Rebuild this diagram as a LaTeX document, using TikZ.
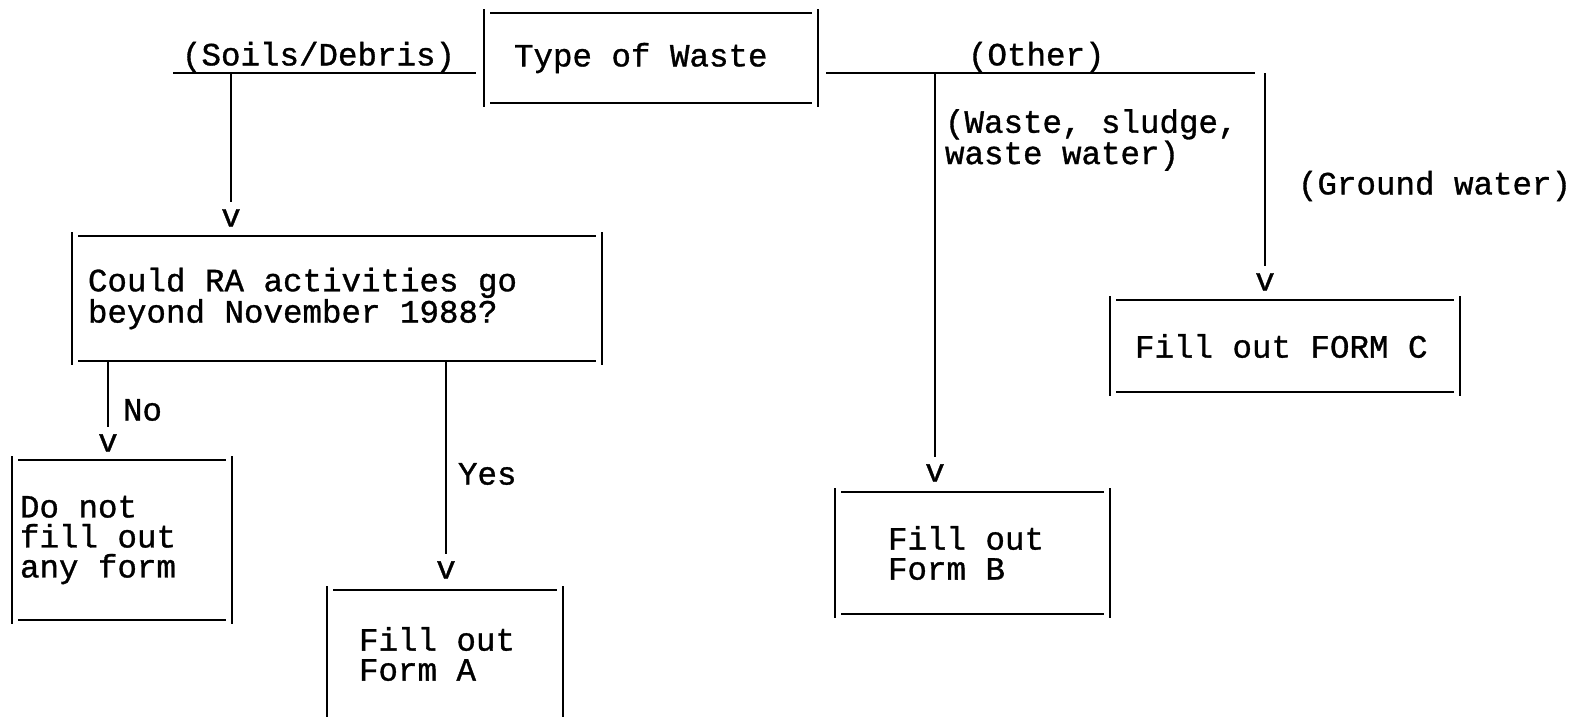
\documentclass[tikz,border=0pt]{standalone}
\usepackage{fontspec}
\newfontfamily\typewriter[FakeBold=1]{Liberation Mono}
\usetikzlibrary{calc}
% typed box: horizontals set in, verticals run a bit past them
\newcommand{\asciibox}[1]{%
  \draw ([xshift=6pt]#1.north west) -- ([xshift=-6pt]#1.north east);
  \draw ([xshift=6pt]#1.south west) -- ([xshift=-6pt]#1.south east);
  \draw ([yshift=4pt]#1.north west) -- ([yshift=-4pt]#1.south west);
  \draw ([yshift=4pt]#1.north east) -- ([yshift=-4pt]#1.south east);}

\begin{document}
\begin{tikzpicture}[x=1pt,y=-1pt,line width=2.2pt,
  every node/.style={font=\typewriter\fontsize{32.5}{30}\selectfont,inner sep=0pt,outer sep=0pt},
  formbox/.style={anchor=north west,align=flush left,inner ysep=0pt},
  vtip/.style={anchor=base},
  lab/.style={anchor=west,align=flush left},
  conn/.style={shorten >=7pt}]
  \clip (0,0) rectangle (1576,716);
  \node[formbox,minimum width=334pt,minimum height=90pt,inner xsep=30pt,text width=274pt] (waste) at (484,13) {Type of Waste};
  \node[formbox,minimum width=530pt,minimum height=125pt,inner xsep=16pt,text width=498pt] (quest) at (72,236) {Could RA activities go\\beyond November 1988?};
  \node[formbox,minimum width=220pt,minimum height=160pt,inner xsep=8pt,text width=204pt] (none) at (12,460) {Do not\\fill out\\any form};
  \node[formbox,minimum width=236pt,minimum height=128pt,inner xsep=32pt,text width=172pt] (forma) at (327,590) {Fill out\\Form A};
  \node[formbox,minimum width=275pt,minimum height=122pt,inner xsep=53pt,text width=169pt] (formb) at (835,492) {Fill out\\Form B};
  \node[formbox,minimum width=350pt,minimum height=92pt,inner xsep=25pt,text width=300pt] (formc) at (1110,300) {Fill out FORM C};
  \asciibox{waste} \asciibox{quest} \asciibox{none}
  \asciibox{forma} \asciibox{formb} \asciibox{formc}
  % arrow heads are typed v's
  \node[vtip] (vquest) at (231,226.5) {v};
  \node[vtip] (vnone) at (108,451.5) {v};
  \node[vtip] (vforma) at (446,578.5) {v};
  \node[vtip] (vformb) at (935,481.5) {v};
  \node[vtip] (vformc) at (1265,290.5) {v};
  % branch labels
  \node[lab] (soillab) at (182,57) {(Soils/Debris)};
  \node[lab] (otherlab) at (968,57) {(Other)};
  \node[lab] (sludgelab) at (945,140) {(Waste, sludge,\\waste water)};
  \node[lab] (gwlab) at (1298,186) {(Ground water)};
  \node[lab] (nolab) at (123,410) {No};
  \node[lab] (yeslab) at (458,474) {Yes};
  % connectors
  \coordinate (soils) at (173,73);
  \coordinate (other) at (1255,73);
  \draw (soils) -- ($(soils -| waste.west)+(-8,0)$);
  \draw ($(other -| waste.east)+(8,0)$) -- (other);
  \draw[conn] (vquest |- soils) -- (vquest);
  \draw[conn] (vformb |- other) -- (vformb);
  \draw[conn] (vformc |- other) -- (vformc);
  \draw[conn] (vnone |- quest.south) -- (vnone);
  \draw[conn] (vforma |- quest.south) -- (vforma);
\end{tikzpicture}
\end{document}
